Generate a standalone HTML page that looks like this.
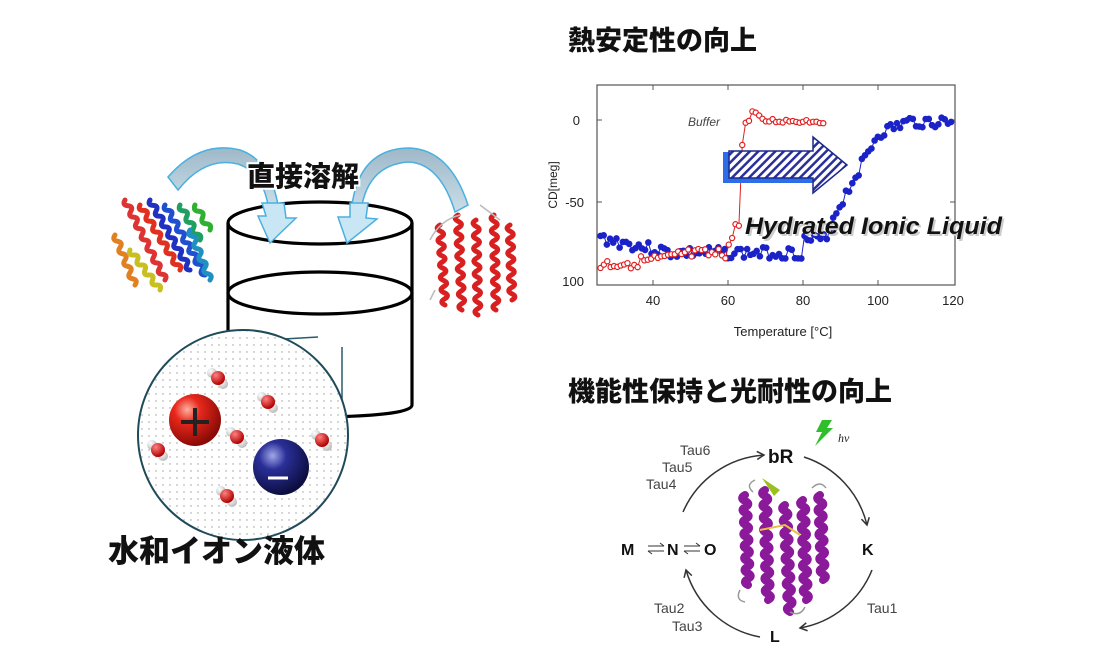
<!DOCTYPE html>
<html><head><meta charset="utf-8"><style>
html,body{margin:0;padding:0;background:#fff;}
svg{display:block;font-family:"Liberation Sans","Noto Sans CJK JP",sans-serif;}
.jp{font-family:"Liberation Sans","Noto Sans CJK JP",sans-serif;font-weight:900;}
</style></head><body>
<svg id="s" width="1110" height="659" viewBox="0 0 1110 659" xmlns="http://www.w3.org/2000/svg">
<defs>
<pattern id="hatch" width="6" height="6" patternUnits="userSpaceOnUse" patternTransform="rotate(45)">
<rect width="6" height="6" fill="#fff"/><rect width="2.5" height="6" fill="#2a2f9a"/></pattern>
<pattern id="dots" width="7" height="7" patternUnits="userSpaceOnUse"><circle cx="2" cy="2" r="0.7" fill="#999"/></pattern>
<radialGradient id="rg" cx="35%" cy="30%" r="70%"><stop offset="0" stop-color="#ffb0a0"/><stop offset="0.35" stop-color="#e8281c"/><stop offset="1" stop-color="#8a0a06"/></radialGradient>
<radialGradient id="bg" cx="35%" cy="30%" r="70%"><stop offset="0" stop-color="#a0a8e8"/><stop offset="0.35" stop-color="#2a2f98"/><stop offset="1" stop-color="#0c0e40"/></radialGradient>
<radialGradient id="wo" cx="35%" cy="30%" r="70%"><stop offset="0" stop-color="#ff8080"/><stop offset="1" stop-color="#b00000"/></radialGradient>
<radialGradient id="wh" cx="35%" cy="30%" r="70%"><stop offset="0" stop-color="#fff"/><stop offset="1" stop-color="#bbb"/></radialGradient>
<linearGradient id="ab" x1="0" y1="0" x2="0" y2="1"><stop offset="0" stop-color="#9fb8c8"/><stop offset="1" stop-color="#c8dde8"/></linearGradient>
<marker id="ah" markerWidth="10" markerHeight="10" refX="8" refY="5" orient="auto" markerUnits="userSpaceOnUse"><path d="M1,1 L8,5 L1,9" fill="none" stroke="#333" stroke-width="1.5"/></marker>
</defs>

<text x="568" y="50" class="jp" font-size="27" fill="#111">熱安定性の向上</text>
<text x="568" y="401" class="jp" font-size="27" fill="#111">機能性保持と光耐性の向上</text>

<rect x="597" y="85" width="358" height="200" fill="none" stroke="#555" stroke-width="1.2"/>
<g stroke="#555" stroke-width="1">
<line x1="653" y1="85" x2="653" y2="90"/><line x1="728" y1="85" x2="728" y2="90"/><line x1="803" y1="85" x2="803" y2="90"/><line x1="878" y1="85" x2="878" y2="90"/>
<line x1="653" y1="285" x2="653" y2="280"/><line x1="728" y1="285" x2="728" y2="280"/><line x1="803" y1="285" x2="803" y2="280"/><line x1="878" y1="285" x2="878" y2="280"/>
<line x1="597" y1="120" x2="602" y2="120"/><line x1="597" y1="202" x2="602" y2="202"/><line x1="955" y1="120" x2="950" y2="120"/><line x1="955" y1="202" x2="950" y2="202"/>
</g>
<g font-size="13" fill="#222" text-anchor="middle">
<text x="653" y="305">40</text><text x="728" y="305">60</text><text x="803" y="305">80</text><text x="878" y="305">100</text><text x="953" y="305">120</text>
<text x="580" y="125" text-anchor="end">0</text><text x="584" y="207" text-anchor="end">-50</text><text x="584" y="286" text-anchor="end">100</text>
<text x="783" y="336" font-size="13">Temperature [°C]</text>
<text transform="translate(557,185) rotate(-90)" font-size="12">CD[meg]</text>
</g>
<text x="688" y="126" font-size="12" font-style="italic" fill="#444">Buffer</text>
<g id="data"></g>
<polygon points="723,152 729,152 729,178 813,178 813,183 723,183" fill="#2d6ee8"/>
<polygon points="729,151 813,151 813,137 847,165 813,193 813,178 729,178" fill="url(#hatch)" stroke="#1c2a8c" stroke-width="1.5"/>
<text x="745" y="234" font-size="24" font-style="italic" font-weight="bold" fill="#ccc" transform="translate(2,2)" textLength="257" lengthAdjust="spacingAndGlyphs">Hydrated Ionic Liquid</text>
<text x="745" y="234" font-size="24" font-style="italic" font-weight="bold" fill="#111" textLength="257" lengthAdjust="spacingAndGlyphs">Hydrated Ionic Liquid</text>

<g fill="none" stroke="#000" stroke-width="3.2">
<ellipse cx="320" cy="223" rx="92" ry="21"/>
<ellipse cx="320" cy="293" rx="92" ry="21"/>
<line x1="228" y1="223" x2="228" y2="340"/>
<line x1="412" y1="223" x2="412" y2="405"/>
<path d="M412,405 Q412,415 330,417"/>
</g>
<g stroke="#2a5a6a" stroke-width="1.5"><line x1="233" y1="342" x2="318" y2="337"/><line x1="342" y1="347" x2="342" y2="418"/></g>
<g stroke="#4ab0e0" stroke-width="1.5">
<path d="M168,177 Q200,140 240,150 Q270,160 278,205 L268,205 Q262,172 238,164 Q205,156 178,190 Z" fill="url(#ab)"/>
<polygon points="262,203 284,203 286,218 296,218 270,243 258,216 266,216" fill="#c8e6f4"/>
<path d="M468,205 Q450,150 410,148 Q360,148 352,205 L362,205 Q370,165 408,162 Q440,163 455,212 Z" fill="url(#ab)"/>
<polygon points="350,203 368,203 366,218 377,219 347,243 338,217 350,217" fill="#c8e6f4"/>
</g>
<text x="247" y="186" class="jp" font-size="28" fill="#111" stroke="#fff" stroke-width="4" paint-order="stroke">直接溶解</text>

<circle cx="243" cy="435" r="105" fill="#fff" stroke="#1f4a5a" stroke-width="2"/>
<circle cx="243" cy="435" r="104" fill="url(#dots)"/>
<g id="waters"></g>
<circle cx="195" cy="420" r="26" fill="url(#rg)"/>
<path d="M181,422 H209 M195,408 V436" stroke="#222" stroke-width="4"/>
<circle cx="281" cy="467" r="28" fill="url(#bg)"/>
<path d="M268,478 H288" stroke="#fff" stroke-width="3"/>
<text x="108" y="562" class="jp" font-size="31" fill="#111">水和イオン液体</text>

<g id="prot"></g>

<g fill="none" stroke="#333" stroke-width="1.5">
<path d="M683,512 A95,95 0 0 1 764,455" marker-end="url(#ah)"/>
<path d="M804,457 A95,95 0 0 1 867,525" marker-end="url(#ah)"/>
<path d="M872,570 A95,95 0 0 1 800,628" marker-end="url(#ah)"/>
<path d="M760,637 A95,95 0 0 1 686,570" marker-end="url(#ah)"/>
</g>
<g font-weight="bold" fill="#111" font-size="16">
<text x="768" y="463" font-size="19">bR</text>
<text x="862" y="555">K</text>
<text x="770" y="642">L</text>
<text x="621" y="555">M</text>
<text x="667" y="555">N</text>
<text x="704" y="555">O</text>
</g>
<g stroke="#333" stroke-width="1" fill="none"><path d="M648,546 H664 M660,543 L664,546 M648,551 H664 M652,554 L648,551 M684,546 H700 M696,543 L700,546 M684,551 H700 M688,554 L684,551"/></g>
<g font-size="14" fill="#444">
<text x="680" y="455">Tau6</text><text x="662" y="472">Tau5</text><text x="646" y="489">Tau4</text>
<text x="654" y="613">Tau2</text><text x="672" y="631">Tau3</text><text x="867" y="613">Tau1</text>
</g>
<polygon points="822,420 832,420 827,428 833,428 815,446 822,432 816,432" fill="#2fbf2a"/>
<text x="838" y="442" font-size="12" font-style="italic" fill="#222" font-family="Liberation Serif,serif">hν</text>
</svg>
<script>
const NS="http://www.w3.org/2000/svg";
function el(p,t,a){const e=document.createElementNS(NS,t);for(const k in a)e.setAttribute(k,a[k]);p.appendChild(e);return e;}
let seed=3;function r(){seed=(seed*9301+49297)%233280;return seed/233280;}
const X=T=>653+(T-40)*3.75;
const d=document.getElementById('data');
let bp=[];
for(let T=26;T<=120;T+=0.85){let y;
 if(T<45)y=238+(T-26)*0.8;else if(T<80)y=253;else if(T<87)y=240;else if(T<100)y=225-(T-87)*7;else if(T<108)y=134-(T-100)*1.5;else y=122;
 y+= (r()-0.5)*12; bp.push([X(T),y]);}
el(d,'polyline',{points:bp.map(p=>p.join(',')).join(' '),fill:'none',stroke:'#1a22c8','stroke-width':1});
bp.forEach(p=>el(d,'circle',{cx:p[0],cy:p[1],r:3.3,fill:'#1a22c8'}));
let rp=[];
for(let T=26;T<=86;T+=0.9){let y;
 if(T<46)y=265-(T-26)*0.3;else if(T<60)y=255;else if(T<61.5)y=240;else if(T<63)y=225;else if(T<64.5)y=150;else y=121;
 if(T>66&&T<69)y=113;
 y+=(r()-0.5)*(T<64?12:5); rp.push([X(T),y]);}
el(d,'polyline',{points:rp.map(p=>p.join(',')).join(' '),fill:'none',stroke:'#e02020','stroke-width':1});
rp.forEach(p=>el(d,'circle',{cx:p[0],cy:p[1],r:2.6,fill:'#fff',stroke:'#e02020','stroke-width':1.2}));
const w=document.getElementById('waters');
[[218,378],[268,402],[237,437],[322,440],[158,450],[227,496]].forEach(([x,y])=>{
 el(w,'circle',{cx:x-6,cy:y-5,r:5,fill:'url(#wh)'});el(w,'circle',{cx:x+5,cy:y+6,r:5,fill:'url(#wh)'});
 el(w,'circle',{cx:x,cy:y,r:7,fill:'url(#wo)'});});
const P=document.getElementById('prot');
function helix(x1,y1,x2,y2,col,w,amp){let n=Math.hypot(x2-x1,y2-y1)/6|0;let dx=(x2-x1)/n,dy=(y2-y1)/n,L=Math.hypot(dx,dy),px=-dy/L*amp,py=dx/L*amp;
 let s=`M${x1},${y1}`;for(let i=1;i<=n;i++){let sg=i%2?1:-1;s+=` Q${x1+dx*(i-0.5)+px*sg},${y1+dy*(i-0.5)+py*sg} ${x1+dx*i},${y1+dy*i}`;}
 el(P,'path',{d:s,fill:'none',stroke:col,'stroke-width':w,'stroke-linecap':'round'});}
[['#e08020',115,235,135,285],['#d33',125,200,165,280],['#e03020',140,205,180,270],['#c8c020',130,250,160,290],['#2030c0',150,200,190,270],['#2050d0',165,205,205,275],['#20a060',180,205,200,240],['#2090c0',190,230,210,280],['#30b030',195,205,210,230]].forEach(h=>helix(h[1],h[2],h[3],h[4],h[0],5,5));
[[440,225,445,305],[458,215,462,310],[476,220,478,315],[494,215,496,310],[510,225,512,300]].forEach(h=>helix(h[0],h[1],h[2],h[3],'#d82020',5,6));
el(P,'path',{d:'M430,240 q10,-20 30,-25 M480,205 l20,15 M435,290 l-5,10',fill:'none',stroke:'#bbb','stroke-width':1.5});
[[745,495,748,585],[765,490,768,600],[785,505,790,612],[803,500,806,600],[820,495,823,580]].forEach(h=>helix(h[0],h[1],h[2],h[3],'#8a1a9a',8,6));
el(P,'path',{d:'M762,478 l18,12 l-6,6 z',fill:'#9ac020'});
el(P,'path',{d:'M760,530 l25,-5 l15,10',fill:'none',stroke:'#e8c040','stroke-width':2});
el(P,'path',{d:'M755,480 q-10,5 -2,12 M812,488 q8,-8 14,0 M740,590 q-5,10 5,12 M790,612 q10,5 15,-5',fill:'none',stroke:'#999','stroke-width':1.5});
</script>
</body></html>
